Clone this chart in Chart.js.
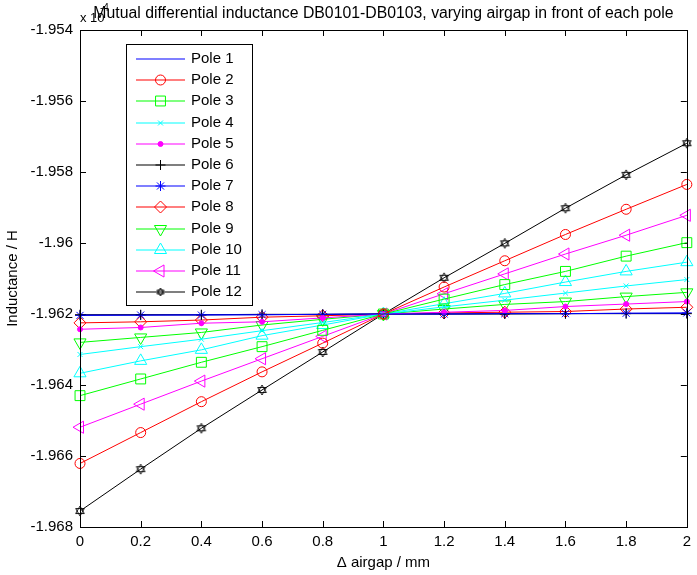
<!DOCTYPE html>
<html lang="en">
<head>
<meta charset="UTF-8">
<title>Mutual differential inductance</title>
<script src="https://cdn.jsdelivr.net/npm/chart.js"></script>
<style>
  html, body { margin: 0; padding: 0; background: #fff; }
  #wrap { width: 697px; height: 575px; }
</style>
</head>
<body>
<div id="wrap"><canvas id="grafico"></canvas></div>
<script>
// dados (valores em unidades de 1e-4 H)
const airgap = [0, 0.2, 0.4, 0.6, 0.8, 1, 1.2, 1.4, 1.6, 1.8, 2];
const pole1  = [-1.96203, -1.96203, -1.96202, -1.96202, -1.96201, -1.962, -1.962, -1.96199, -1.96199, -1.96198, -1.96198];
const pole2  = [-1.96621, -1.96534, -1.96447, -1.96363, -1.96282, -1.962, -1.96124, -1.9605, -1.95976, -1.95905, -1.95835];
const pole3  = [-1.9643, -1.96383, -1.96336, -1.96292, -1.96246, -1.962, -1.96158, -1.96117, -1.9608, -1.96037, -1.95999];
const pole4  = [-1.96314, -1.96292, -1.96271, -1.96247, -1.96224, -1.962, -1.9618, -1.96161, -1.96141, -1.96121, -1.96103];
const pole5  = [-1.96243, -1.96238, -1.96226, -1.96222, -1.96211, -1.962, -1.96195, -1.9619, -1.96179, -1.96172, -1.96165];
const pole6  = [-1.96202, -1.96202, -1.96202, -1.96201, -1.96201, -1.962, -1.962, -1.962, -1.96199, -1.96199, -1.96199];
const pole7  = [-1.96204, -1.96203, -1.96203, -1.96202, -1.96201, -1.962, -1.962, -1.96199, -1.96199, -1.96198, -1.96197];
const pole8  = [-1.96225, -1.96222, -1.96217, -1.96209, -1.96205, -1.962, -1.96197, -1.96195, -1.96193, -1.96186, -1.96181];
const pole9  = [-1.9628, -1.96266, -1.96252, -1.96231, -1.96215, -1.962, -1.96186, -1.96173, -1.96165, -1.96151, -1.96139];
const pole10 = [-1.96367, -1.96332, -1.96301, -1.96261, -1.96231, -1.962, -1.96171, -1.96142, -1.9611, -1.9608, -1.96054];
const pole11 = [-1.96519, -1.96454, -1.96389, -1.96326, -1.96263, -1.962, -1.96143, -1.96087, -1.96031, -1.95978, -1.95922];
const pole12 = [-1.96755, -1.96637, -1.96522, -1.96414, -1.96307, -1.962, -1.96098, -1.96001, -1.95902, -1.95808, -1.95719];
const poleNames = ['Pole 1', 'Pole 2', 'Pole 3', 'Pole 4', 'Pole 5', 'Pole 6',
                   'Pole 7', 'Pole 8', 'Pole 9', 'Pole 10', 'Pole 11', 'Pole 12'];
const xTicks = [0, 0.2, 0.4, 0.6, 0.8, 1, 1.2, 1.4, 1.6, 1.8, 2];
const yTicks = [-1.968, -1.966, -1.964, -1.962, -1.96, -1.958, -1.956, -1.954];

const fonte = '"Liberation Sans", Arial, sans-serif';

// marcador hexagrama (pole 12)
function hexagrama(tam, r) {
    var c = document.createElement('canvas');
    c.width = tam; c.height = tam;
    var g = c.getContext('2d');
    var cx = tam / 2, cy = tam / 2;
    g.strokeStyle = '#000';
    g.lineWidth = 0.9;
    for (var k = 0; k < 2; k++) {
        g.beginPath();
        for (var i = 0; i < 3; i++) {
            var a = -Math.PI / 2 + k * Math.PI + i * 2 * Math.PI / 3;
            var px = cx + r * Math.cos(a), py = cy + r * Math.sin(a);
            if (i == 0) g.moveTo(px, py); else g.lineTo(px, py);
        }
        g.closePath();
        g.stroke();
    }
    return c;
}
const hexGrande = hexagrama(12, 5);
const hexPequeno = hexagrama(10, 4);

const cores = ['#0000ff', '#ff0000', '#00ff00', '#00ffff', '#ff00ff', '#000000',
               '#0000ff', '#ff0000', '#00ff00', '#00ffff', '#ff00ff', '#000000'];
const estilos = [
    { s: 'circle', r: 0, rot: 0 },
    { s: 'circle', r: 5, rot: 0 },
    { s: 'rect', r: 7, rot: 0 },
    { s: 'crossRot', r: 3.5, rot: 0 },
    { s: 'circle', r: 2.5, rot: 0, cheio: true },
    { s: 'cross', r: 5, rot: 0 },
    { s: 'star', r: 5, rot: 0 },
    { s: 'rectRot', r: 6, rot: 0 },
    { s: 'triangle', r: 7, rot: 180 },
    { s: 'triangle', r: 7, rot: 0 },
    { s: 'triangle', r: 7, rot: 270 },
    { s: hexGrande, r: 6, rot: 0 }
];
const series = [pole1, pole2, pole3, pole4, pole5, pole6, pole7, pole8, pole9, pole10, pole11, pole12];

const datasets = series.map(function (serie, i) {
    return {
        label: poleNames[i],
        data: airgap.map(function (x, j) { return { x: x, y: serie[j] }; }),
        borderColor: cores[i],
        borderWidth: 1,
        pointStyle: estilos[i].s,
        pointRadius: estilos[i].r,
        pointRotation: estilos[i].rot,
        pointBorderColor: cores[i],
        pointBorderWidth: 1,
        pointBackgroundColor: estilos[i].cheio ? cores[i] : 'rgba(0,0,0,0)',
        tension: 0,
        clip: false
    };
});

function rotulo(v) {
    return String(parseFloat(Number(v).toFixed(3)));
}

// caixa, ticks para dentro, titulo, expoente e legenda estilo matlab
const estiloMatlab = {
    id: 'estiloMatlab',
    beforeDatasetsDraw(chart) {
        const ctx = chart.ctx, a = chart.chartArea;
        const xs = chart.scales.x, ys = chart.scales.y;
        ctx.save();
        ctx.strokeStyle = '#000';
        ctx.lineWidth = 1;
        ctx.beginPath();
        xTicks.forEach(function (t) {
            var px = Math.round(xs.getPixelForValue(t)) + 0.5;
            ctx.moveTo(px, a.bottom); ctx.lineTo(px, a.bottom - 6);
            ctx.moveTo(px, a.top); ctx.lineTo(px, a.top + 6);
        });
        yTicks.forEach(function (t) {
            var py = Math.round(ys.getPixelForValue(t)) + 0.5;
            ctx.moveTo(a.left, py); ctx.lineTo(a.left + 6, py);
            ctx.moveTo(a.right, py); ctx.lineTo(a.right - 6, py);
        });
        ctx.stroke();
        ctx.restore();
    },
    afterDraw(chart) {
        const ctx = chart.ctx, a = chart.chartArea;
        ctx.save();
        // caixa dos eixos
        ctx.strokeStyle = '#000';
        ctx.lineWidth = 1;
        ctx.strokeRect(Math.round(a.left) + 0.5, Math.round(a.top) + 0.5,
            Math.round(a.right - a.left), Math.round(a.bottom - a.top));

        // expoente
        ctx.fillStyle = '#000';
        ctx.textAlign = 'left';
        ctx.textBaseline = 'alphabetic';
        ctx.font = '13px ' + fonte;
        ctx.fillText('x 10', 80, 22);
        ctx.font = '10px ' + fonte;
        ctx.fillText('-4', 100, 11);

        // titulo
        ctx.font = '15.8px ' + fonte;
        ctx.textAlign = 'center';
        ctx.fillText('Mutual differential inductance DB0101-DB0103, varying airgap in front of each pole',
            (a.left + a.right) / 2, 18);

        // legenda
        const lx = 126, ly = 44, lw = 126, lh = 261, passo = 21.2;
        ctx.fillStyle = '#fff';
        ctx.fillRect(lx, ly, lw, lh);
        ctx.strokeStyle = '#000';
        ctx.strokeRect(lx + 0.5, ly + 0.5, lw, lh);
        ctx.font = '15px ' + fonte;
        ctx.textBaseline = 'middle';
        chart.data.datasets.forEach(function (ds, i) {
            var yy = Math.round(59 + i * passo);
            ctx.strokeStyle = ds.borderColor;
            ctx.lineWidth = 1.2;
            ctx.beginPath();
            ctx.moveTo(136, yy); ctx.lineTo(185, yy);
            ctx.stroke();
            var est = ds.pointStyle === hexGrande ? hexPequeno : ds.pointStyle;
            if (ds.pointRadius > 0) {
                ctx.fillStyle = ds.pointBackgroundColor;
                ctx.strokeStyle = ds.pointBorderColor;
                ctx.lineWidth = 1;
                Chart.helpers.drawPoint(ctx, {
                    pointStyle: est,
                    rotation: ds.pointRotation,
                    radius: ds.pointRadius,
                    borderWidth: 1
                }, 160.5, yy);
            }
            ctx.fillStyle = '#000';
            ctx.textAlign = 'left';
            ctx.fillText(ds.label, 191, yy);
        });
        ctx.restore();
    }
};

new Chart(document.getElementById('grafico'), {
    type: 'line',
    data: { datasets: datasets },
    options: {
        responsive: true,
        maintainAspectRatio: false,
        animation: false,
        events: [],
        layout: { padding: { top: 30, right: 5, left: 0, bottom: 0 } },
        plugins: { legend: { display: false }, title: { display: false }, tooltip: { enabled: false } },
        scales: {
            x: {
                type: 'linear',
                min: 0, max: 2,
                afterFit: function (s) { s.height = 48; },
                afterBuildTicks: function (s) { s.ticks = xTicks.map(function (v) { return { value: v }; }); },
                grid: { display: false, drawTicks: false },
                border: { display: false },
                ticks: {
                    color: '#000', padding: 6, maxRotation: 0, autoSkip: false,
                    font: { family: fonte, size: 15 },
                    callback: rotulo
                },
                title: {
                    display: true, text: '\u0394 airgap / mm', color: '#000',
                    font: { family: fonte, size: 15 }, padding: { top: 0, bottom: 3 }
                }
            },
            y: {
                type: 'linear',
                min: -1.968, max: -1.954,
                afterFit: function (s) { s.width = 80; },
                afterBuildTicks: function (s) { s.ticks = yTicks.map(function (v) { return { value: v }; }); },
                grid: { display: false, drawTicks: false },
                border: { display: false },
                ticks: {
                    color: '#000', padding: 7, autoSkip: false,
                    font: { family: fonte, size: 15 },
                    callback: rotulo
                },
                title: {
                    display: true, text: 'Inductance / H', color: '#000',
                    font: { family: fonte, size: 15 }, padding: { top: 4, bottom: 0 }
                }
            }
        }
    },
    plugins: [estiloMatlab]
});
</script>
</body>
</html>
